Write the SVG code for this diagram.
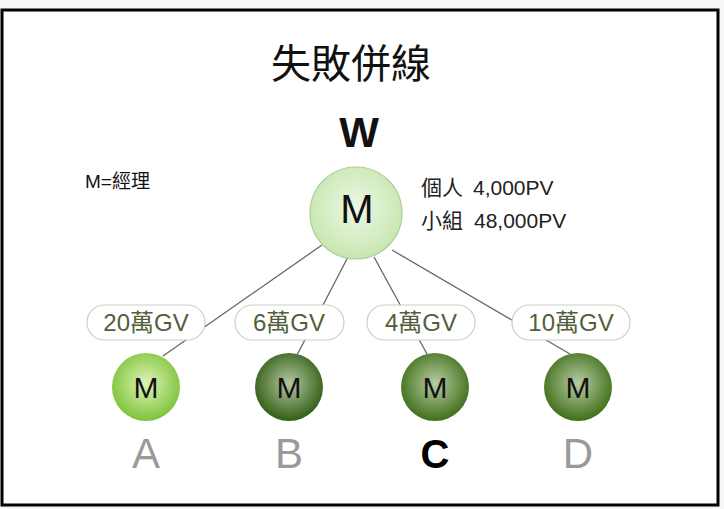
<svg xmlns="http://www.w3.org/2000/svg" width="724" height="509" viewBox="0 0 724 509">
<defs>
<style>
.t{font-family:"Liberation Sans","Noto Sans CJK TC",Arial,sans-serif}
.pill rect{fill:#fff;stroke:#c9d3bf;stroke-width:1.2}
.pill text{font-size:24px;fill:#51603a;text-anchor:middle}
.conn line{stroke:#666;stroke-width:1.3}
.m{font-size:30px;fill:#111;text-anchor:middle}
.lbl{font-size:42px;fill:#9a9a9a;text-anchor:middle}
</style>
<radialGradient id="gTop" cx="0.5" cy="0.45" r="0.55">
<stop offset="0" stop-color="#eef8e6"/>
<stop offset="1" stop-color="#c7e6b0"/>
</radialGradient>
<radialGradient id="gA" cx="0.5" cy="0.45" r="0.55">
<stop offset="0" stop-color="#e0f4b8"/>
<stop offset="1" stop-color="#7dc33a"/>
</radialGradient>
<radialGradient id="gB" cx="0.5" cy="0.45" r="0.55">
<stop offset="0" stop-color="#b4c8a0"/>
<stop offset="1" stop-color="#315e15"/>
</radialGradient>
<radialGradient id="gC" cx="0.5" cy="0.45" r="0.55">
<stop offset="0" stop-color="#b8cca4"/>
<stop offset="1" stop-color="#3f7019"/>
</radialGradient>
</defs>
<rect x="0" y="0" width="724" height="509" fill="#f6f6f6"/>
<rect x="2" y="10" width="716" height="495" fill="#fff" stroke="#000" stroke-width="3"/>
<text class="t" x="351" y="78" font-size="40" text-anchor="middle" fill="#111">失敗併線</text>
<text class="t" x="85" y="188" font-size="19" fill="#111">M=經理</text>
<g id="conns" class="conn">
<line x1="322" y1="245" x2="163" y2="356"/>
<line x1="348" y1="257" x2="297" y2="355"/>
<line x1="374" y1="257" x2="427" y2="354"/>
<line x1="392" y1="250" x2="570" y2="354"/>
</g>
<g id="W">
<text class="t" x="359" y="147" font-size="42" font-weight="bold" text-anchor="middle" fill="#111">W</text>
<circle cx="356" cy="213" r="46" fill="url(#gTop)" stroke="#a9cf98" stroke-width="1.2"/>
<text class="t" x="357" y="223" font-size="40" text-anchor="middle" fill="#111">M</text>
<text class="t" x="421" y="195" font-size="21" fill="#222"><tspan>個人</tspan><tspan x="473">4,000PV</tspan></text>
<text class="t" x="421" y="228" font-size="21" fill="#222"><tspan>小組</tspan><tspan x="474">48,000PV</tspan></text>
</g>
<g id="pA" class="pill t"><rect x="87" y="305" width="118" height="35" rx="17.5"/><text x="146" y="331">20萬GV</text></g>
<g id="pB" class="pill t"><rect x="235" y="305" width="109" height="35" rx="17.5"/><text x="289" y="331">6萬GV</text></g>
<g id="pC" class="pill t"><rect x="367" y="305" width="108" height="35" rx="17.5"/><text x="421" y="331">4萬GV</text></g>
<g id="pD" class="pill t"><rect x="512" y="305" width="118" height="35" rx="17.5"/><text x="571" y="331">10萬GV</text></g>
<g id="A" class="t"><circle cx="146" cy="387" r="34" fill="url(#gA)"/><text class="m" x="146" y="398">M</text><text class="lbl" x="146" y="468">A</text></g>
<g id="B" class="t"><circle cx="289" cy="387" r="34" fill="url(#gB)"/><text class="m" x="289" y="398">M</text><text class="lbl" x="289" y="468">B</text></g>
<g id="C" class="t"><circle cx="435" cy="387" r="34" fill="url(#gC)"/><text class="m" x="435" y="398">M</text><text class="lbl" x="435" y="468" style="fill:#000;font-weight:bold;font-size:40px">C</text></g>
<g id="D" class="t"><circle cx="578" cy="387" r="34" fill="url(#gC)"/><text class="m" x="578" y="398">M</text><text class="lbl" x="578" y="468">D</text></g>
</svg>
